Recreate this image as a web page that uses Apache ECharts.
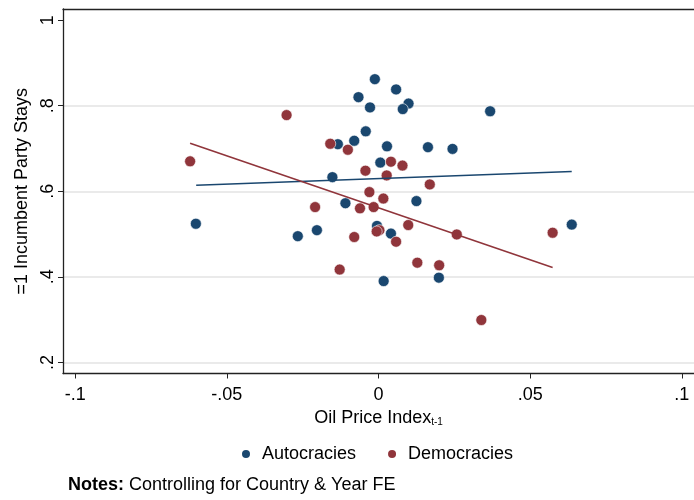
<!DOCTYPE html>
<html>
<head>
<meta charset="utf-8">
<script src="https://cdn.jsdelivr.net/npm/echarts@6/dist/echarts.min.js"></script>
<style>
html,body{margin:0;padding:0;background:#fff;}
#c{width:694px;height:500px;}
</style>
</head>
<body>
<div id="c"></div>
<script>
// ---- data ----
var autocracies = [
  [-0.0012,0.862],[-0.0066,0.820],[0.0058,0.838],[-0.0028,0.796],[0.0099,0.805],
  [0.0080,0.792],[0.0368,0.787],[-0.0042,0.740],[-0.0080,0.718],[-0.0134,0.710],
  [0.0028,0.705],[0.0163,0.703],[0.0244,0.699],[0.0006,0.667],[-0.0152,0.633],
  [-0.0109,0.572],[0.0125,0.577],[-0.0602,0.524],[-0.0266,0.495],[-0.0203,0.509],
  [-0.0005,0.519],[0.0041,0.501],[0.0637,0.522],[0.0017,0.390],[0.0199,0.398]
];
var democracies = [
  [-0.0303,0.778],[-0.0159,0.711],[-0.0101,0.697],[-0.0621,0.670],[-0.0043,0.648],
  [0.0041,0.669],[0.0079,0.660],[0.0027,0.637],[0.0169,0.616],[-0.0030,0.598],
  [0.0016,0.583],[-0.0209,0.563],[-0.0061,0.560],[-0.0016,0.563],[-0.0080,0.493],
  [0.0003,0.509],[-0.0006,0.506],[0.0098,0.521],[0.0258,0.499],[0.0574,0.503],
  [0.0058,0.482],[-0.0128,0.417],[0.0128,0.433],[0.0200,0.427],[0.0339,0.299]
];
var autoFit = [[-0.0601,0.614],[0.0637,0.646]];
var demoFit = [[-0.0621,0.712],[0.0574,0.422]];
var xTicks = [-0.1,-0.05,0,0.05,0.1];
var xTickLabels = ['-.1','-.05','0','.05','.1'];
var yTicks = [0.2,0.4,0.6,0.8,1];
var yTickLabels = ['.2','.4','.6','.8','1'];
var seriesNames = ['Autocracies','Democracies'];
var noteText = 'Controlling for Country & Year FE';

var BLUE = '#1a476f', RED = '#90353b';
var FONT = 'Liberation Sans, Arial, Helvetica, sans-serif';

function lbl(ticks, labels){
  return function(v){
    for (var i=0;i<ticks.length;i++){ if (Math.abs(v-ticks[i])<1e-9) return labels[i]; }
    return '';
  };
}

var chart = echarts.init(document.getElementById('c'), null, {renderer:'canvas'});
chart.setOption({
  backgroundColor:'#fff',
  animation:false,
  textStyle:{fontFamily:FONT},
  grid:{left:63, top:9, width:635, height:364.5, containLabel:false},
  title:{
    left:68, top:476, padding:0,
    text:'{b|Notes:} {r|' + noteText + '}',
    textStyle:{
      fontWeight:'normal',
      rich:{
        b:{fontFamily:FONT,fontWeight:'bold',fontSize:18,color:'#000'},
        r:{fontFamily:FONT,fontWeight:'normal',fontSize:18,color:'#000'}
      }
    }
  },
  legend:{
    left:235, top:440,
    data:seriesNames,
    icon:'circle',
    itemWidth:22, itemHeight:10, itemGap:30,
    textStyle:{fontFamily:FONT,fontSize:18,color:'#000'}
  },
  xAxis:[{
    type:'value', min:-0.104, max:0.104, position:'bottom',
    axisLine:{show:true,onZero:false,lineStyle:{color:'#222',width:1.3}},
    axisTick:{show:true,length:5,customValues:xTicks,lineStyle:{color:'#222',width:1}},
    axisLabel:{show:true,customValues:xTicks,formatter:lbl(xTicks,xTickLabels),margin:13,fontSize:18,color:'#000',fontFamily:FONT},
    splitLine:{show:false},
    name:'{a|Oil Price Index}{s|t-1}',
    nameLocation:'middle', nameGap:28,
    nameTextStyle:{
      rich:{
        a:{fontFamily:FONT,fontSize:18,lineHeight:20,color:'#000',verticalAlign:'bottom'},
        s:{fontFamily:FONT,fontSize:10,lineHeight:10,color:'#000',verticalAlign:'bottom'}
      }
    }
  },{
    type:'value', min:-0.104, max:0.104, position:'top',
    axisLine:{show:true,onZero:false,lineStyle:{color:'#222',width:1.3}},
    axisTick:{show:false}, axisLabel:{show:false}, splitLine:{show:false}
  }],
  yAxis:{
    type:'value', min:0.174, max:1.026,
    axisLine:{show:true,onZero:false,lineStyle:{color:'#222',width:1.3}},
    axisTick:{show:true,length:5,customValues:yTicks,lineStyle:{color:'#222',width:1}},
    axisLabel:{show:true,customValues:yTicks,formatter:lbl(yTicks,yTickLabels),rotate:90,margin:6,fontSize:18,color:'#000',fontFamily:FONT},
    splitLine:{show:true,lineStyle:{color:['#e3e3e3','#e3e3e3','#e3e3e3','#e3e3e3','rgba(0,0,0,0)'],width:1.5}},
    name:'=1 Incumbent Party Stays',
    nameLocation:'middle', nameGap:25, nameRotate:90,
    nameTextStyle:{fontFamily:FONT,fontSize:18,color:'#000'}
  },
  series:[
    {name:seriesNames[0], type:'scatter', data:autocracies, symbolSize:11,
     itemStyle:{color:BLUE,borderColor:'#fff',borderWidth:0.6,opacity:1}, z:3},
    {name:seriesNames[1], type:'scatter', data:democracies, symbolSize:11,
     itemStyle:{color:RED,borderColor:'#fff',borderWidth:0.6,opacity:1}, z:3},
    {name:'autoFit', type:'line', data:autoFit, showSymbol:false, symbol:'none',
     lineStyle:{color:BLUE,width:1.6}, z:4, silent:true},
    {name:'demoFit', type:'line', data:demoFit, showSymbol:false, symbol:'none',
     lineStyle:{color:RED,width:1.6}, z:4, silent:true}
  ]
});
</script>
</body>
</html>
